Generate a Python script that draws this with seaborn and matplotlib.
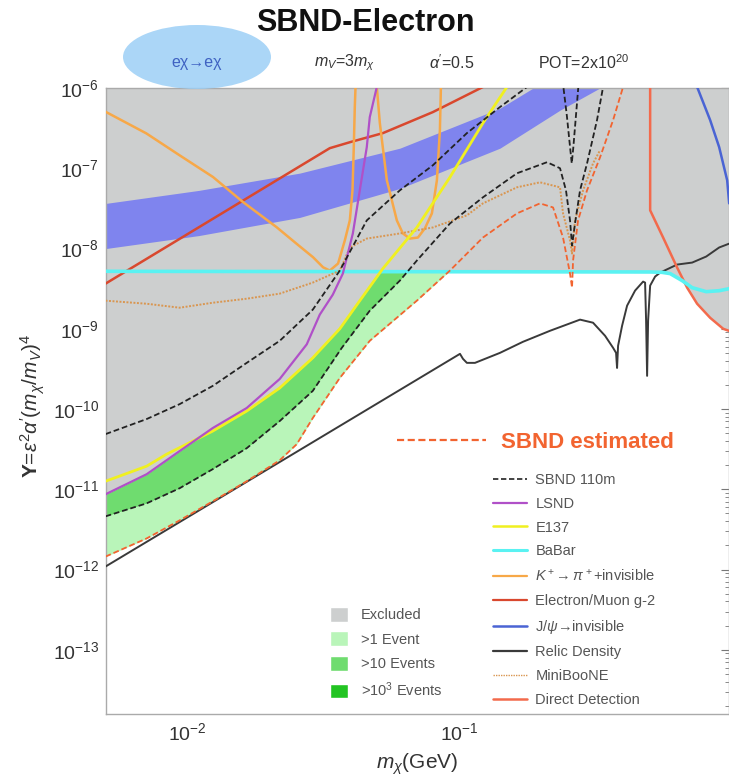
import numpy as np
import matplotlib
matplotlib.use("Agg")
import matplotlib.pyplot as plt
import seaborn as sns
from matplotlib.lines import Line2D
from matplotlib.patches import Patch, Ellipse
from matplotlib.ticker import LogLocator, NullFormatter, FixedLocator

# ---------------- data (m_chi in GeV, Y) ----------------
# thermal-target band
band_m = [0.005, 0.011, 0.0259, 0.0606, 0.1417, 0.236, 0.331, 0.5]
band_lo = [1.0e-8, 1.45e-8, 2.44e-8, 5.6e-8, 1.78e-7, 5.3e-7, 1.0e-6, 2.0e-6]
band_hi = [3.65e-8, 5.3e-8, 8.7e-8, 1.78e-7, 5.6e-7, 1.6e-6, 2.5e-6, 4.0e-6]

# K+ -> pi+ + invisible
kpi_m = [0.00498, 0.00704, 0.00934, 0.0124, 0.0160, 0.02125, 0.02518, 0.0290, 0.03157,
         0.03342, 0.03585, 0.03796, 0.03961, 0.04052, 0.04097, 0.04132, 0.04158, 0.046,
         0.04981, 0.05111, 0.05424, 0.05904, 0.06214, 0.06596, 0.07061, 0.07489, 0.0795,
         0.08295, 0.08509, 0.08582]
kpi_Y = [5.06e-7, 2.72e-7, 1.45e-7, 7.78e-8, 3.79e-8, 1.85e-8, 1.15e-8, 7.78e-9, 5.83e-9,
         5.31e-9, 6.5e-9, 1.26e-8, 2.24e-8, 5.31e-8, 1.85e-7, 5.83e-7, 1.04e-6, 1e-5,
         1.03e-6, 3.65e-7, 7.08e-8, 2.24e-8, 1.54e-8, 1.33e-8, 1.37e-8, 1.78e-8, 2.74e-8,
         7.08e-8, 2.99e-7, 1.03e-6]

# electron / muon g-2
g2_m = [0.00498, 0.03342, 0.03961, 0.05243, 0.08017, 0.1226]
g2_Y = [3.65e-9, 1.78e-7, 2.11e-7, 2.74e-7, 5.01e-7, 1.03e-6]

# direct detection
dd_m = [0.5069, 0.5070, 0.5659, 0.6374, 0.6940, 0.7553, 0.8436, 0.9423, 0.9915]
dd_Y = [1.0e-5, 2.99e-8, 1.37e-8, 5.79e-9, 3.25e-9, 2.05e-9, 1.37e-9, 1.0e-9, 9.4e-10]

# BaBar
babar_m = [0.005, 0.5069, 0.56, 0.6008, 0.6652, 0.7242, 0.8157, 0.9108, 0.9915]
babar_Y = [5.2e-9, 5.1e-9, 5.05e-9, 4.87e-9, 3.98e-9, 3.25e-9, 2.90e-9, 2.98e-9, 3.16e-9]

# LSND
lsnd_m = [0.00498, 0.00706, 0.00934, 0.01237, 0.01651, 0.02185, 0.02748, 0.03069, 0.03428,
          0.03733, 0.04064, 0.04311, 0.04574, 0.04692, 0.04981]
lsnd_Y = [8.66e-12, 1.54e-11, 2.99e-11, 5.79e-11, 1.03e-10, 2.37e-10, 6.4e-10, 1.50e-9, 2.66e-9,
          4.87e-9, 1.54e-8, 5.31e-8, 1.83e-7, 4.34e-7, 1.03e-6]

# E137
e137_m = [0.00498, 0.00706, 0.00837, 0.01237, 0.01651, 0.02185, 0.02892, 0.03638, 0.04311,
          0.05243, 0.06998, 0.09265, 0.1226, 0.1503]
e137_Y = [1.26e-11, 1.94e-11, 2.74e-11, 5.31e-11, 9.44e-11, 1.83e-10, 4.34e-10, 1.0e-9, 2.24e-9,
          5.62e-9, 1.83e-8, 7.72e-8, 3.65e-7, 1.03e-6]

# SBND 110m (two sensitivity contours)
sbu_m = [0.00498, 0.00706, 0.00934, 0.01237, 0.01651, 0.02185, 0.02892, 0.03638, 0.04574,
         0.06058, 0.08017, 0.1070, 0.1417, 0.1782, 0.21, 0.2427, 0.2500, 0.2568, 0.2606,
         0.2642, 0.2700, 0.2756]
sbu_Y = [4.87e-11, 7.5e-11, 1.15e-10, 1.94e-10, 3.76e-10, 7.08e-10, 1.73e-9, 5.31e-9, 2.24e-8,
         5.31e-8, 1.09e-7, 2.74e-7, 5.79e-7, 1.03e-6, 3e-6, 1.03e-6, 4.5e-7, 1.85e-7, 1.15e-7,
         1.85e-7, 4.5e-7, 1.04e-6]
sbl_m = [0.00498, 0.00706, 0.00934, 0.01237, 0.01651, 0.02185, 0.02892, 0.03701, 0.04692,
         0.06058, 0.06998, 0.09265, 0.1226, 0.1637, 0.2113, 0.2359, 0.2481, 0.2568, 0.2612,
         0.2679, 0.2796, 0.2967, 0.3229, 0.3400]
sbl_Y = [4.6e-12, 6.68e-12, 1.03e-11, 1.78e-11, 3.25e-11, 7.08e-11, 1.68e-10, 5.79e-10, 1.68e-9,
         3.98e-9, 7.08e-9, 2.05e-8, 4.34e-8, 8.66e-8, 1.19e-7, 1.0e-7, 5.31e-8, 2.24e-8, 1.09e-8,
         2.05e-8, 5.31e-8, 1.15e-7, 3.98e-7, 1.03e-6]

# SBND estimated
est_m = [0.00498, 0.00706, 0.00934, 0.01237, 0.01651, 0.02185, 0.02525, 0.02892, 0.03638,
         0.04692, 0.06998, 0.09265, 0.1226, 0.1637, 0.1990, 0.2223, 0.2420, 0.2568, 0.2612,
         0.2635, 0.2749, 0.2967, 0.3314, 0.3701, 0.4029]
est_Y = [1.45e-12, 2.44e-12, 4.1e-12, 7.08e-12, 1.26e-11, 2.3e-11, 3.65e-11, 7.72e-11, 2.44e-10,
         7.08e-10, 2.24e-9, 5.31e-9, 1.37e-8, 2.74e-8, 3.65e-8, 3.25e-8, 1.37e-8, 4.87e-9, 3.25e-9,
         7.08e-9, 2.24e-8, 5.31e-8, 1.37e-7, 3.98e-7, 1.03e-6]

# MiniBooNE
mb_m = [0.00498, 0.00706, 0.00934, 0.01237, 0.01651, 0.02185, 0.02892, 0.03638, 0.03961,
        0.04574, 0.06058, 0.08017, 0.1070, 0.1226, 0.1637, 0.1990, 0.2359, 0.2420, 0.2568,
        0.2612, 0.2679, 0.2869, 0.3122, 0.3314]
mb_Y = [2.24e-9, 2.05e-9, 1.83e-9, 2.11e-9, 2.37e-9, 2.74e-9, 3.76e-9, 5.31e-9, 1.03e-8,
        1.33e-8, 1.54e-8, 1.83e-8, 2.59e-8, 3.65e-8, 5.79e-8, 6.68e-8, 5.79e-8, 2.74e-8, 1.26e-8,
        8.66e-9, 2.24e-8, 5.31e-8, 1.15e-7, 1.68e-7]

# relic density
relic_m = [0.00498, 0.1009, 0.1035, 0.1070, 0.1146, 0.1417, 0.1722, 0.2167, 0.2796, 0.3122,
           0.3457, 0.3701, 0.3796, 0.3828, 0.3861, 0.3995, 0.4168, 0.4461, 0.4775, 0.4856,
           0.4898, 0.4940, 0.4982, 0.5069, 0.5287, 0.5520, 0.6374, 0.7242, 0.8157, 0.9108, 0.9915]
relic_Y = [1.09e-12, 4.87e-10, 4.22e-10, 3.76e-10, 3.76e-10, 5.01e-10, 6.88e-10, 9.44e-10, 1.30e-9,
           1.19e-9, 8.18e-10, 5.79e-10, 5.01e-10, 3.25e-10, 6.13e-10, 1.09e-9, 1.94e-9, 2.99e-9,
           3.87e-9, 3.76e-9, 1.26e-9, 2.59e-10, 1.26e-9, 3.45e-9, 4.47e-9, 5.01e-9, 6.31e-9,
           6.68e-9, 7.94e-9, 1.03e-8, 1.15e-8]

# J/psi -> invisible
jpsi_m = [0.74, 0.7553, 0.8436, 0.9108, 0.9748, 0.9915]
jpsi_Y = [2.0e-6, 1.03e-6, 3.98e-7, 1.83e-7, 7.08e-8, 3.65e-8]

# axis decades
y_decades = [1e-13, 1e-12, 1e-11, 1e-10, 1e-9, 1e-8, 1e-7, 1e-6]
x_decades = [1e-2, 1e-1]

# ---------------- colours ----------------
excl_c, one_c, ten_c, thou_c = "#cdcfcf", "#b9f5b9", "#6fdc6f", "#22c422"
band_c = "#7f84ee"
est_c, lsnd_c, e137_c, babar_c = "#f26430", "#b050c8", "#f0f020", "#5af2f2"
kpi_c, g2_c, jpsi_c, relic_c = "#f7a848", "#d9482e", "#4a64d4", "#3a3a3a"
mb_c, dd_c, sbnd_c = "#d99650", "#f36a4c", "#222222"

# ---------------- style ----------------
sns.set_style("white")
plt.rcParams["font.family"] = ["Liberation Sans", "DejaVu Sans"]
plt.rcParams["mathtext.fontset"] = "custom"
plt.rcParams["mathtext.rm"] = "Liberation Sans"
plt.rcParams["mathtext.it"] = "Liberation Sans:italic"
plt.rcParams["mathtext.bf"] = "Liberation Sans:bold"

fig = plt.figure(figsize=(7.29, 7.83), dpi=100)
ax = fig.add_axes([106 / 729, 1 - 714 / 783, 623 / 729, 626 / 783])
ax.set_xscale("log")
ax.set_yscale("log")
ax.set_xlim(0.005, 0.99)
ax.set_ylim(10 ** -13.8, 1e-6)
ax.set_facecolor("white")


def log_interp(grid, m, Y):
    return np.interp(np.log10(grid), np.log10(m), np.log10(Y), left=np.inf, right=np.inf)


# excluded region: everything above the strongest existing bound
grid = np.logspace(np.log10(0.005), np.log10(0.99), 1500)
env = np.minimum.reduce([log_interp(grid, lsnd_m, lsnd_Y), log_interp(grid, e137_m, e137_Y),
                         log_interp(grid, babar_m, babar_Y), log_interp(grid, dd_m, dd_Y)])
ax.fill_between(grid, 10 ** env, 1e-4, color=excl_c, lw=0, zorder=1)

# SBND event regions below the existing bounds
low = log_interp(grid, sbl_m, sbl_Y)
est = log_interp(grid, est_m, est_Y)
ax.fill_between(grid, 10 ** low, 10 ** env, where=(low < env) & (grid < 0.15),
                interpolate=True, color=ten_c, lw=0, zorder=1.5)
ax.fill_between(grid, 10 ** est, 10 ** np.minimum(low, env), where=(est < env) & (grid < 0.15),
                interpolate=True, color=one_c, lw=0, zorder=1.5)

# thermal band
ax.fill_between(band_m, band_lo, band_hi, color=band_c, lw=0, zorder=2)


def curve(m, Y, **kw):
    sns.lineplot(x=m, y=Y, ax=ax, sort=False, estimator=None, legend=False, **kw)


dash = (0, (3.2, 1.6))
dots = (0, (1, 0.8))
curve(relic_m, relic_Y, color=relic_c, lw=1.4, zorder=3)
curve(dd_m, dd_Y, color=dd_c, lw=1.8, zorder=3)
curve(jpsi_m, jpsi_Y, color=jpsi_c, lw=1.8, zorder=3)
curve(g2_m, g2_Y, color=g2_c, lw=1.8, zorder=3)
curve(kpi_m, kpi_Y, color=kpi_c, lw=1.8, zorder=3)
curve(babar_m, babar_Y, color=babar_c, lw=2.6, zorder=3)
curve(mb_m, mb_Y, color=mb_c, lw=1.4, linestyle=dots, zorder=3)
curve(e137_m, e137_Y, color=e137_c, lw=2.0, zorder=3.2)
curve(lsnd_m, lsnd_Y, color=lsnd_c, lw=1.6, zorder=3.2)
curve(sbu_m, sbu_Y, color=sbnd_c, lw=1.3, linestyle=dash, zorder=3.4)
curve(sbl_m, sbl_Y, color=sbnd_c, lw=1.3, linestyle=dash, zorder=3.4)
curve(est_m, est_Y, color=est_c, lw=1.3, linestyle=dash, zorder=3.4)

# ---------------- axes cosmetics ----------------
ax.yaxis.set_major_locator(FixedLocator(y_decades))
ax.xaxis.set_major_locator(FixedLocator(x_decades))
ax.yaxis.set_minor_locator(LogLocator(base=10, subs=np.arange(2, 10), numticks=200))
ax.xaxis.set_minor_locator(LogLocator(base=10, subs=np.arange(2, 10), numticks=200))
ax.yaxis.set_minor_formatter(NullFormatter())
ax.xaxis.set_minor_formatter(NullFormatter())
ax.tick_params(which="both", direction="in", top=True, right=True, color="#777777")
ax.tick_params(which="major", length=6, width=0.8, labelsize=14, labelcolor="#333333", pad=5)
ax.tick_params(which="minor", length=3, width=0.6)
ax.tick_params(axis="x", which="major", pad=6)
for s in ax.spines.values():
    s.set_color("#aaaaaa")
    s.set_linewidth(1.0)
ax.set_xlabel(r"$m_\chi$(GeV)", fontsize=15, color="#333333", labelpad=5)

fig.text(33 / 729, 1 - 406 / 783, r"$\mathbf{Y}$=$\epsilon^2\alpha'(m_\chi/m_V)^4$",
         rotation=90, ha="center", va="center", fontsize=15, color="#333333")

# ---------------- title and header ----------------
fig.text(365 / 729, 1 - 23 / 783, "SBND-Electron", fontsize=22, fontweight="bold",
         ha="center", va="center", color="#111111")
fig.add_artist(Ellipse((197 / 729, 1 - 57 / 783), 148 / 729, 64 / 783,
                       transform=fig.transFigure, facecolor="#9ccff6", edgecolor="none",
                       alpha=0.85, zorder=6))
hy = 1 - 63 / 783
fig.text(197 / 729, hy, "eχ→eχ", color="#3f62c2", fontsize=11.5, ha="center", va="center", zorder=7)
fig.text(345 / 729, hy, r"$m_V$=3$m_\chi$", color="#333333", fontsize=11.5, ha="center", va="center")
fig.text(452 / 729, hy, r"$\alpha'$=0.5", color="#333333", fontsize=11.5, ha="center", va="center")
fig.text(584 / 729, hy, r"POT=2x10$^{20}$", color="#333333", fontsize=11.5, ha="center", va="center")

# ---------------- legends ----------------
fig.legend(handles=[Line2D([], [], color=est_c, lw=1.6, ls=dash, label="SBND estimated")],
           loc="upper left", bbox_to_anchor=(397 / 729, 1 - 432 / 783), frameon=False,
           prop={"size": 16, "weight": "bold"}, labelcolor=est_c, handlelength=4.0,
           handletextpad=0.7, borderpad=0, borderaxespad=0)

line_handles = [
    Line2D([], [], color=sbnd_c, lw=1.2, ls=dash, label="SBND 110m"),
    Line2D([], [], color=lsnd_c, lw=1.6, label="LSND"),
    Line2D([], [], color=e137_c, lw=1.8, label="E137"),
    Line2D([], [], color=babar_c, lw=2.2, label="BaBar"),
    Line2D([], [], color=kpi_c, lw=1.6, label=r"$K^+\!\rightarrow\pi^+$+invisible"),
    Line2D([], [], color=g2_c, lw=1.6, label="Electron/Muon g-2"),
    Line2D([], [], color=jpsi_c, lw=1.8, label=r"J/$\psi$→invisible"),
    Line2D([], [], color=relic_c, lw=1.6, label="Relic Density"),
    Line2D([], [], color=mb_c, lw=1.0, ls=dots, label="MiniBooNE"),
    Line2D([], [], color=dd_c, lw=1.8, label="Direct Detection"),
]
fig.legend(handles=line_handles, loc="upper left", bbox_to_anchor=(493 / 729, 1 - 473 / 783),
           frameon=False, fontsize=10.5, handlelength=2.3, handletextpad=0.6, labelspacing=0.67,
           borderpad=0, borderaxespad=0, labelcolor="#555555")

area_handles = [
    Patch(facecolor=excl_c, label="Excluded"),
    Patch(facecolor=one_c, label=">1 Event"),
    Patch(facecolor=ten_c, label=">10 Events"),
    Patch(facecolor=thou_c, label=r">10$^3$ Events"),
]
fig.legend(handles=area_handles, loc="upper left", bbox_to_anchor=(330 / 729, 1 - 607 / 783),
           frameon=False, fontsize=10.5, handlelength=1.2, handleheight=1.2, handletextpad=0.9,
           labelspacing=0.62, borderpad=0, borderaxespad=0, labelcolor="#555555")

fig.savefig("out.png", dpi=100)
